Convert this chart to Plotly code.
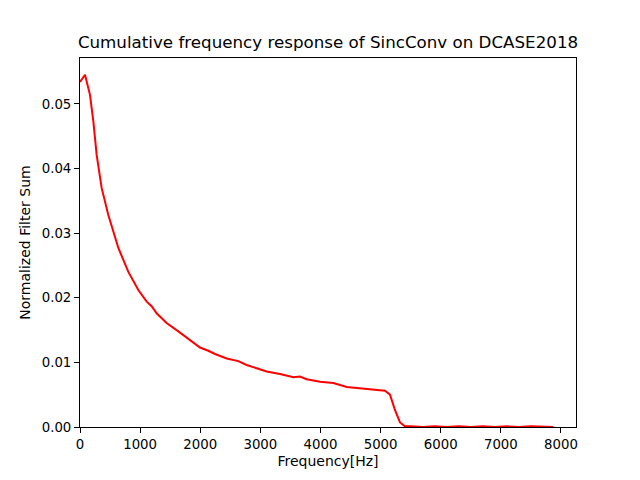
import plotly.graph_objects as go

freq = [0, 83, 166, 222, 277, 360, 471, 582, 638, 804, 970, 1109, 1192, 1275, 1441,
        1636, 1719, 1830, 1996, 2134, 2246, 2440, 2633, 2772, 2994, 3105, 3327, 3549,
        3659, 3770, 3992, 4214, 4436, 4657, 4879, 5073, 5156, 5240, 5323, 5406, 5500,
        5700, 5900, 6100, 6300, 6500, 6700, 6900, 7100, 7300, 7500, 7700, 7875]
response = [0.0534, 0.0545, 0.0514, 0.0473, 0.0421, 0.0370, 0.0328, 0.0293, 0.0277,
            0.0240, 0.0212, 0.0194, 0.0187, 0.0176, 0.0161, 0.0148, 0.0142, 0.0135,
            0.0123, 0.0118, 0.0113, 0.0106, 0.0102, 0.0096, 0.0089, 0.0086, 0.0082,
            0.0077, 0.0078, 0.0074, 0.0070, 0.0068, 0.0062, 0.0060, 0.0057, 0.0056,
            0.0050, 0.0026, 0.0007, 0.0001, 0.0001, 0.0000, 0.0001, 0.0000, 0.0001,
            0.0000, 0.0001, 0.0000, 0.0001, 0.0000, 0.0001, 0.0001, 0.0000]

x_ticks = [0, 1000, 2000, 3000, 4000, 5000, 6000, 7000, 8000]
y_ticks = [0.00, 0.01, 0.02, 0.03, 0.04, 0.05]

fig = go.Figure()
fig.add_trace(go.Scatter(x=freq, y=response, mode="lines",
                         line=dict(color="red", width=2), showlegend=False))

axis_common = dict(showline=True, linecolor="black", linewidth=1, mirror=True,
                   ticks="outside", ticklen=5, tickwidth=1, tickcolor="black",
                   showgrid=False, zeroline=False,
                   tickfont=dict(family="DejaVu Sans", size=13.3, color="black"))

fig.update_layout(
    width=640, height=480,
    margin=dict(l=80, r=64, t=58, b=53),
    paper_bgcolor="white", plot_bgcolor="white",
    title=dict(text="Cumulative frequency response of SincConv on DCASE2018",
               x=0.5, xref="paper", y=0.912, yref="container", yanchor="middle",
               font=dict(family="DejaVu Sans", size=16.7, color="black")),
    xaxis=dict(range=[0, 8250], tickvals=x_ticks,
               title=dict(text="Frequency[Hz]", standoff=5,
                          font=dict(family="DejaVu Sans", size=14, color="black")),
               **axis_common),
    yaxis=dict(range=[0, 0.0571], tickvals=y_ticks, tickformat=".2f",
               title=dict(text="Normalized Filter Sum", standoff=7,
                          font=dict(family="DejaVu Sans", size=14, color="black")),
               **axis_common),
)

fig.write_html("out.html", config={"displayModeBar": False},
               post_script="document.body.style.margin='0';document.body.style.overflow='hidden';")
